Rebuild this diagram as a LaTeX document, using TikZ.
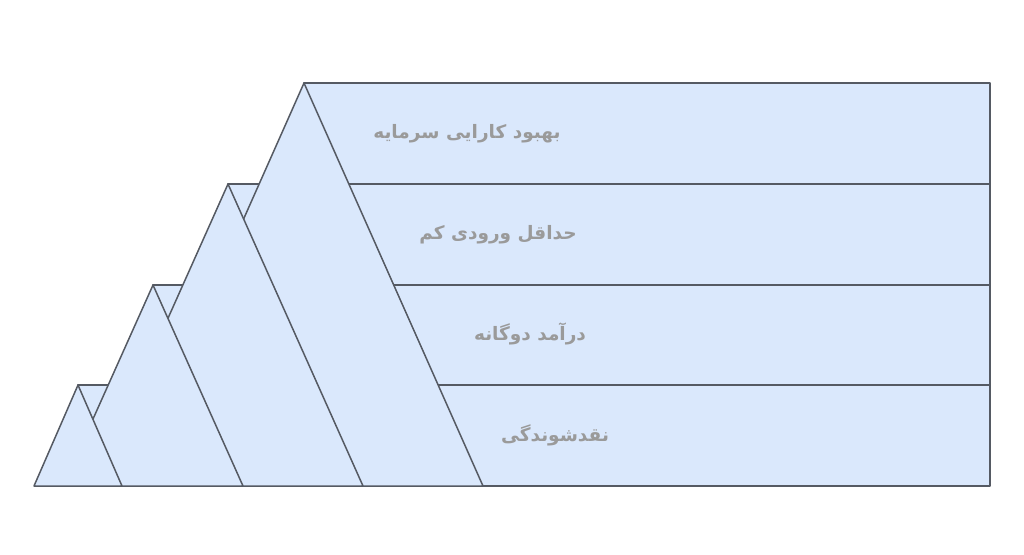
\documentclass[tikz,border=0pt]{standalone}
\usepackage{fontspec}
\TeXXeTstate=1
\newfontfamily\arabicfont[Script=Arabic]{DejaVu Sans}
\definecolor{boxfill}{HTML}{DAE8FC}
\definecolor{edge}{HTML}{555A63}
\definecolor{label}{HTML}{9A9A9A}
\begin{document}
\begin{tikzpicture}[x=1pt,y=-1pt,
  shapeline/.style={draw=edge,fill=boxfill,line width=1.5pt,line join=round},
  rowlabel/.style={text=label,font=\arabicfont\bfseries\fontsize{18.5}{20}\selectfont,inner sep=0pt,anchor=center}]
\useasboundingbox (0,0) rectangle (1024,554);
% row rectangles
\draw[shapeline] (304,83) rectangle (990,184);
\draw[shapeline] (228,184) rectangle (990,285);
\draw[shapeline] (153,285) rectangle (990,385);
\draw[shapeline] (78,385) rectangle (990,486);
% triangles, largest first
\draw[shapeline] (304,83) -- (483,486) -- (125,486) -- cycle;
\draw[shapeline] (228,184) -- (363,486) -- (93,486) -- cycle;
\draw[shapeline] (153,285) -- (243,486) -- (63,486) -- cycle;
\draw[shapeline] (78,385) -- (122,486) -- (34,486) -- cycle;
% labels
\node[rowlabel] (l1) at (467,134) {\beginR بهبود کارایی سرمایه\endR};
\node[rowlabel] (l2) at (498,235) {\beginR حداقل ورودی کم\endR};
\node[rowlabel] (l3) at (530,334) {\beginR درآمد دوگانه\endR};
\node[rowlabel] (l4) at (555,435) {\beginR نقدشوندگی\endR};
\end{tikzpicture}
\end{document}
